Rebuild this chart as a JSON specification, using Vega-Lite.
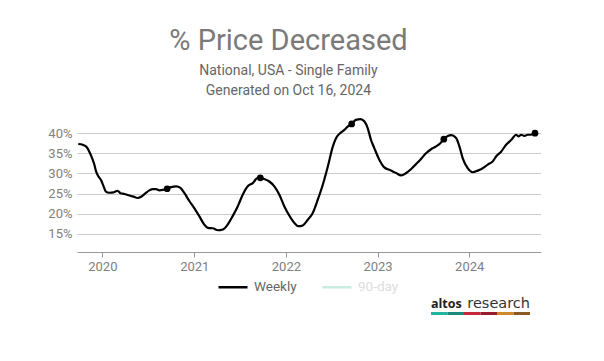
{
  "$schema": "https://vega.github.io/schema/vega-lite/v6.json",
  "background": "white",
  "padding": {"left": 47, "top": 27, "right": 0, "bottom": 0},
  "datasets": {
    "weekly": [
      {"date": "2019-09-27", "pct": 37.3}, {"date": "2019-10-15", "pct": 37.1}, {"date": "2019-10-31", "pct": 36.5},
      {"date": "2019-11-10", "pct": 35.4}, {"date": "2019-11-20", "pct": 34.0}, {"date": "2019-11-30", "pct": 32.2},
      {"date": "2019-12-07", "pct": 30.5}, {"date": "2019-12-16", "pct": 29.3}, {"date": "2019-12-27", "pct": 28.3},
      {"date": "2020-01-06", "pct": 26.8}, {"date": "2020-01-15", "pct": 25.5}, {"date": "2020-01-28", "pct": 25.2},
      {"date": "2020-02-15", "pct": 25.3}, {"date": "2020-03-02", "pct": 25.7}, {"date": "2020-03-13", "pct": 25.1},
      {"date": "2020-03-29", "pct": 24.9}, {"date": "2020-04-14", "pct": 24.6}, {"date": "2020-05-01", "pct": 24.3},
      {"date": "2020-05-21", "pct": 23.9}, {"date": "2020-06-03", "pct": 24.2}, {"date": "2020-06-19", "pct": 25.0},
      {"date": "2020-07-06", "pct": 25.8}, {"date": "2020-07-20", "pct": 26.1}, {"date": "2020-08-02", "pct": 26.1},
      {"date": "2020-08-15", "pct": 25.8}, {"date": "2020-08-29", "pct": 25.9}, {"date": "2020-09-15", "pct": 26.2},
      {"date": "2020-10-01", "pct": 26.6}, {"date": "2020-10-21", "pct": 26.8}, {"date": "2020-11-07", "pct": 26.4},
      {"date": "2020-11-23", "pct": 25.1}, {"date": "2020-12-13", "pct": 23.1}, {"date": "2021-01-01", "pct": 21.4},
      {"date": "2021-01-21", "pct": 19.4}, {"date": "2021-02-10", "pct": 17.3}, {"date": "2021-02-24", "pct": 16.5},
      {"date": "2021-03-16", "pct": 16.4}, {"date": "2021-04-05", "pct": 15.9}, {"date": "2021-04-25", "pct": 16.1},
      {"date": "2021-05-14", "pct": 17.3}, {"date": "2021-06-03", "pct": 19.4}, {"date": "2021-06-23", "pct": 21.8},
      {"date": "2021-07-13", "pct": 24.7}, {"date": "2021-08-02", "pct": 26.8}, {"date": "2021-08-22", "pct": 27.6},
      {"date": "2021-09-11", "pct": 28.9}, {"date": "2021-09-21", "pct": 28.9}, {"date": "2021-10-07", "pct": 28.6},
      {"date": "2021-10-27", "pct": 28.0}, {"date": "2021-11-16", "pct": 26.8}, {"date": "2021-12-06", "pct": 24.7},
      {"date": "2021-12-26", "pct": 21.8}, {"date": "2022-01-15", "pct": 19.5}, {"date": "2022-02-04", "pct": 17.7},
      {"date": "2022-02-20", "pct": 16.9}, {"date": "2022-03-09", "pct": 17.1}, {"date": "2022-03-29", "pct": 18.5},
      {"date": "2022-04-18", "pct": 20.2}, {"date": "2022-05-08", "pct": 23.5}, {"date": "2022-05-28", "pct": 27.2},
      {"date": "2022-06-17", "pct": 31.7}, {"date": "2022-07-07", "pct": 36.7}, {"date": "2022-07-20", "pct": 38.8},
      {"date": "2022-08-09", "pct": 40.2}, {"date": "2022-08-22", "pct": 40.8}, {"date": "2022-09-04", "pct": 41.6},
      {"date": "2022-09-20", "pct": 42.3}, {"date": "2022-10-07", "pct": 43.3}, {"date": "2022-10-25", "pct": 43.5},
      {"date": "2022-11-10", "pct": 42.9}, {"date": "2022-11-23", "pct": 41.2}, {"date": "2022-12-06", "pct": 38.3},
      {"date": "2022-12-19", "pct": 36.3}, {"date": "2023-01-08", "pct": 33.4}, {"date": "2023-01-28", "pct": 31.5},
      {"date": "2023-02-17", "pct": 30.9}, {"date": "2023-03-03", "pct": 30.5}, {"date": "2023-03-16", "pct": 30.1},
      {"date": "2023-04-05", "pct": 29.5}, {"date": "2023-04-25", "pct": 30.1}, {"date": "2023-05-15", "pct": 31.1},
      {"date": "2023-06-03", "pct": 32.3}, {"date": "2023-06-23", "pct": 33.6}, {"date": "2023-07-13", "pct": 35.0},
      {"date": "2023-08-02", "pct": 36.0}, {"date": "2023-08-22", "pct": 36.7}, {"date": "2023-09-08", "pct": 37.5},
      {"date": "2023-09-22", "pct": 38.5}, {"date": "2023-10-08", "pct": 39.3}, {"date": "2023-10-21", "pct": 39.5},
      {"date": "2023-11-10", "pct": 38.8}, {"date": "2023-11-23", "pct": 36.7}, {"date": "2023-12-06", "pct": 33.8},
      {"date": "2023-12-26", "pct": 31.3}, {"date": "2024-01-15", "pct": 30.3}, {"date": "2024-02-04", "pct": 30.7},
      {"date": "2024-02-24", "pct": 31.3}, {"date": "2024-03-15", "pct": 32.2}, {"date": "2024-04-04", "pct": 33.0},
      {"date": "2024-04-17", "pct": 34.2}, {"date": "2024-05-07", "pct": 35.4}, {"date": "2024-05-27", "pct": 37.1},
      {"date": "2024-06-16", "pct": 38.3}, {"date": "2024-07-06", "pct": 39.6}, {"date": "2024-07-15", "pct": 39.2},
      {"date": "2024-07-26", "pct": 39.6}, {"date": "2024-08-08", "pct": 39.3}, {"date": "2024-08-21", "pct": 39.6},
      {"date": "2024-09-03", "pct": 39.6}, {"date": "2024-09-19", "pct": 40.0}
    ],
    "markers": [
      {"date": "2020-09-15", "pct": 26.2}, {"date": "2021-09-21", "pct": 28.9}, {"date": "2022-09-20", "pct": 42.3},
      {"date": "2023-09-22", "pct": 38.5}, {"date": "2024-09-19", "pct": 40.0}
    ],
    "logo": [{"seg": 1}, {"seg": 2}, {"seg": 3}, {"seg": 4}, {"seg": 5}, {"seg": 6}]
  },
  "title": {
    "text": "% Price Decreased",
    "subtitle": ["National, USA - Single Family", "Generated on Oct 16, 2024"],
    "anchor": "middle",
    "dx": -6,
    "font": "Roboto",
    "fontSize": 29,
    "fontWeight": "normal",
    "color": "#7a7a7a",
    "subtitleFont": "Roboto",
    "subtitleFontSize": 14,
    "subtitleColor": "#666666",
    "subtitleLineHeight": 20,
    "subtitlePadding": 8,
    "offset": 15
  },
  "bounds": "flush",
  "spacing": 60,
  "resolve": {"scale": {"color": "independent", "x": "independent", "y": "independent"}, "legend": {"color": "independent"}},
  "vconcat": [
    {
      "width": 464,
      "height": 139,
      "layer": [
        {
          "data": {"name": "weekly"},
          "mark": {"type": "line", "interpolate": "monotone", "strokeWidth": 2.2},
          "encoding": {
            "x": {
              "field": "date", "type": "temporal",
              "scale": {"domain": [{"year": 2019, "month": 9, "date": 22}, {"year": 2024, "month": 10, "date": 13}]},
              "axis": {
                "title": null, "format": "%Y", "tickCount": {"interval": "year", "step": 1},
                "grid": false, "domainColor": "#999999", "tickColor": "#999999", "tickSize": 5,
                "labelColor": "#808080", "labelFontSize": 13, "labelPadding": 3
              }
            },
            "y": {
              "field": "pct", "type": "quantitative",
              "scale": {"domain": [10.5, 45], "nice": false, "zero": false},
              "axis": {
                "title": null, "values": [15, 20, 25, 30, 35, 40], "tickCount": 10, "labelExpr": "datum.value + '%'",
                "domain": false, "ticks": false, "grid": true, "gridColor": "#cccccc",
                "labelColor": "#808080", "labelFontSize": 13, "labelPadding": 5
              }
            },
            "color": {
              "datum": "Weekly", "type": "nominal",
              "scale": {"domain": ["Weekly", "90-day"], "range": ["#000000", "#c9ebe1"]},
              "legend": {
                "title": null, "orient": "none", "legendX": 140, "legendY": 158, "direction": "horizontal",
                "symbolType": "stroke", "symbolSize": 841, "symbolStrokeWidth": 2.5,
                "labelFontSize": 13.5, "labelOffset": 5, "columnPadding": 20,
                "encode": {"labels": {"update": {"fill": {"signal": "datum.label === '90-day' ? '#dddddd' : '#666666'"}}}}
              }
            }
          }
        },
        {
          "data": {"name": "markers"},
          "mark": {"type": "circle", "size": 45, "color": "#000000", "opacity": 1},
          "encoding": {
            "x": {"field": "date", "type": "temporal"},
            "y": {"field": "pct", "type": "quantitative"}
          }
        }
      ]
    },
    {
      "width": 464,
      "height": 3,
      "data": {"name": "logo"},
      "layer": [
        {
          "mark": {"type": "bar"},
          "encoding": {
            "x": {"field": "seg", "type": "ordinal", "axis": null,
                  "scale": {"range": [354, 453], "paddingInner": 0, "paddingOuter": 0}},
            "y": {"datum": 1, "type": "quantitative", "axis": null, "scale": {"domain": [0, 1]}},
            "color": {"field": "seg", "type": "ordinal", "legend": null,
                      "scale": {"range": ["#1fb5a0", "#1a8a7a", "#c8283c", "#9a1b30", "#d08a2a", "#8b5a22"]}}
          }
        },
        {
          "data": {"values": [{"word": "altos"}]},
          "mark": {"type": "text", "align": "left", "baseline": "alphabetic", "dy": -6, "font": "Open Sans", "fontWeight": "bold", "fontSize": 12.5, "color": "#222222"},
          "encoding": {
            "x": {"datum": 1, "type": "ordinal", "bandPosition": 0},
            "text": {"field": "word"}
          }
        },
        {
          "data": {"values": [{"word": "research"}]},
          "mark": {"type": "text", "align": "right", "baseline": "alphabetic", "dy": -6, "font": "DejaVu Sans", "fontSize": 14.5, "color": "#333333"},
          "encoding": {
            "x": {"datum": 6, "type": "ordinal", "bandPosition": 1},
            "text": {"field": "word"}
          }
        }
      ]
    }
  ],
  "config": {
    "font": "Roboto",
    "view": {"stroke": null}
  }
}
